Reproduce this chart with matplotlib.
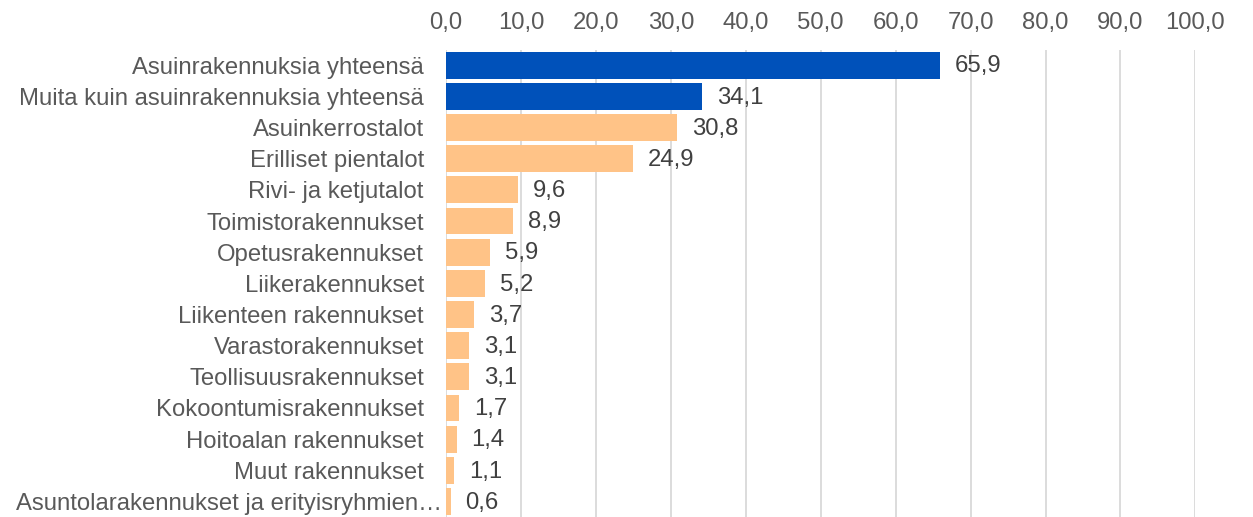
import matplotlib.pyplot as plt
import matplotlib.transforms as mtransforms

categories = [
    'Asuinrakennuksia yhteensä',
    'Muita kuin asuinrakennuksia yhteensä',
    'Asuinkerrostalot',
    'Erilliset pientalot',
    'Rivi- ja ketjutalot',
    'Toimistorakennukset',
    'Opetusrakennukset',
    'Liikerakennukset',
    'Liikenteen rakennukset',
    'Varastorakennukset',
    'Teollisuusrakennukset',
    'Kokoontumisrakennukset',
    'Hoitoalan rakennukset',
    'Muut rakennukset',
    'Asuntolarakennukset ja erityisryhmien…',
]
values = [65.9, 34.1, 30.8, 24.9, 9.6, 8.9, 5.9, 5.2, 3.7, 3.1, 3.1, 1.7, 1.4, 1.1, 0.6]
xticks = [0, 10, 20, 30, 40, 50, 60, 70, 80, 90, 100]

blue = '#0051BA'
orange = '#FFC387'
colors = [blue, blue] + [orange] * (len(values) - 2)

plt.rcParams['font.family'] = ['Liberation Sans', 'DejaVu Sans']

fig = plt.figure(figsize=(12.53, 5.17), dpi=100)
ax = fig.add_axes([0.356, 0.0, 0.598, 0.904])

ypos = list(range(len(values)))
ax.barh(ypos, values, height=0.86, color=colors, zorder=3)
ax.set_ylim(len(values) - 0.5, -0.5)
ax.set_xlim(0, 100)

for y, v in zip(ypos, values):
    ax.text(v + 2.0, y + 0.04, ('%.1f' % v).replace('.', ','), va='center', ha='left',
            fontsize=17.2, color='#404040', zorder=4)

ax.set_yticks(ypos)
ax.set_yticklabels(categories, fontsize=17.2, color='#595959')
ax.set_xticks(xticks)
ax.set_xticklabels([('%.1f' % t).replace('.', ',') for t in xticks], fontsize=17.2, color='#595959')
ax.xaxis.tick_top()
ax.tick_params(axis='both', length=0)
ax.tick_params(axis='x', pad=11)
ax.tick_params(axis='y', pad=16)
ax.grid(axis='x', color='#D9D9D9', linewidth=1.3, zorder=0)
for s in ax.spines.values():
    s.set_visible(False)

# the truncated last label runs up to the bar in the original
last = ax.get_yticklabels()[-1]
last.set_transform(last.get_transform() + mtransforms.ScaledTranslation(18 / 100, 0, fig.dpi_scale_trans))

fig.savefig('out.png', dpi=100)
